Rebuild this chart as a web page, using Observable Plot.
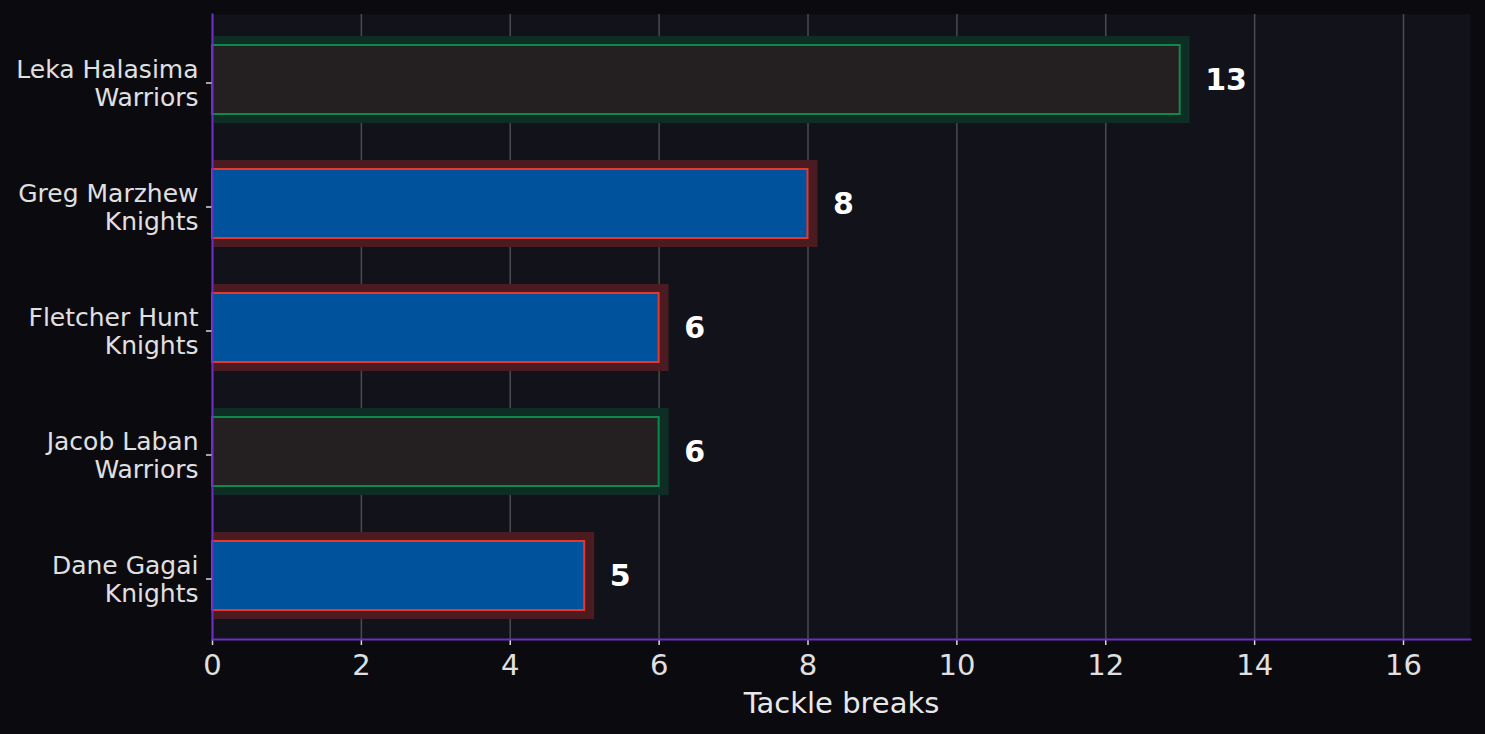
<!DOCTYPE html>
<html>
<head>
<meta charset="utf-8">
<script src="https://cdn.jsdelivr.net/npm/d3@7"></script>
<script src="https://cdn.jsdelivr.net/npm/@observablehq/plot@0.6"></script>
<style>
  html, body { margin: 0; padding: 0; background: #0b0a0f; }
  #chart svg { display: block; }
</style>
</head>
<body>
<div id="chart"></div>
<script>
const players = ["Leka Halasima", "Greg Marzhew", "Fletcher Hunt", "Jacob Laban", "Dane Gagai"];
const teams = ["Warriors", "Knights", "Knights", "Warriors", "Knights"];
const tackleBreaks = [13, 8, 6, 6, 5];
const xTicks = [0, 2, 4, 6, 8, 10, 12, 14, 16];

const teamFill = {Warriors: "#242021", Knights: "#00529c"};
const teamStroke = {Warriors: "#0b8a4b", Knights: "#e8382a"};
const teamGlow = {Warriors: "#0e2e25", Knights: "#4a1b20"};

const data = players.map((p, i) => ({
  label: p + "\n" + teams[i],
  team: teams[i],
  value: tackleBreaks[i]
}));
const yDomain = data.map(d => d.label);

const purple = "#6a2ec4";
const font = "'DejaVu Sans', sans-serif";

const chart = Plot.plot({
  width: 1485,
  height: 734,
  marginLeft: 212,
  marginRight: 15,
  marginTop: 14,
  marginBottom: 95,
  style: {background: "#0b0a0f", fontFamily: font, color: "#e0e0e0"},
  x: {domain: [0, 16.9]},
  y: {domain: yDomain, range: [15.5, 639], paddingInner: 0.44, paddingOuter: 0.22},
  marks: [
    Plot.frame({fill: "#12121a", stroke: null}),
    Plot.gridX(xTicks, {stroke: "#4a4a50", strokeOpacity: 1, strokeWidth: 1.5}),
    Plot.barX(data, {
      x: "value", y: "label",
      fill: d => teamGlow[d.team],
      insetTop: -9, insetBottom: -9, insetRight: -10
    }),
    Plot.barX(data, {
      x: "value", y: "label",
      fill: d => teamFill[d.team],
      stroke: d => teamStroke[d.team],
      strokeWidth: 2
    }),
    Plot.text(data, {
      x: "value", y: "label",
      text: d => String(d.value),
      dx: 25, textAnchor: "start",
      fill: "#ffffff", fontWeight: "bold", fontSize: 30, fontFamily: font
    }),
    Plot.axisX({
      ticks: xTicks, tickSize: 6, tickPadding: 9,
      stroke: "#d8d8d8", strokeWidth: 1.5,
      fill: "#e0e0e0", fontSize: 29, fontFamily: font, label: null
    }),
    Plot.axisY({
      tickSize: 6, tickPadding: 8, dy: 3,
      stroke: "#d8d8d8", strokeWidth: 1.5,
      fill: "#e0e0e0", fontSize: 25, fontFamily: font, lineHeight: 1.1, label: null
    }),
    Plot.frame({anchor: "left", stroke: purple, strokeWidth: 2}),
    Plot.frame({anchor: "bottom", stroke: purple, strokeWidth: 2}),
    Plot.text(["Tackle breaks"], {
      frameAnchor: "bottom", dy: 73, text: d => d,
      fill: "#e8e8e8", fontSize: 29, fontFamily: font
    })
  ]
});
document.getElementById("chart").appendChild(chart);
</script>
</body>
</html>
